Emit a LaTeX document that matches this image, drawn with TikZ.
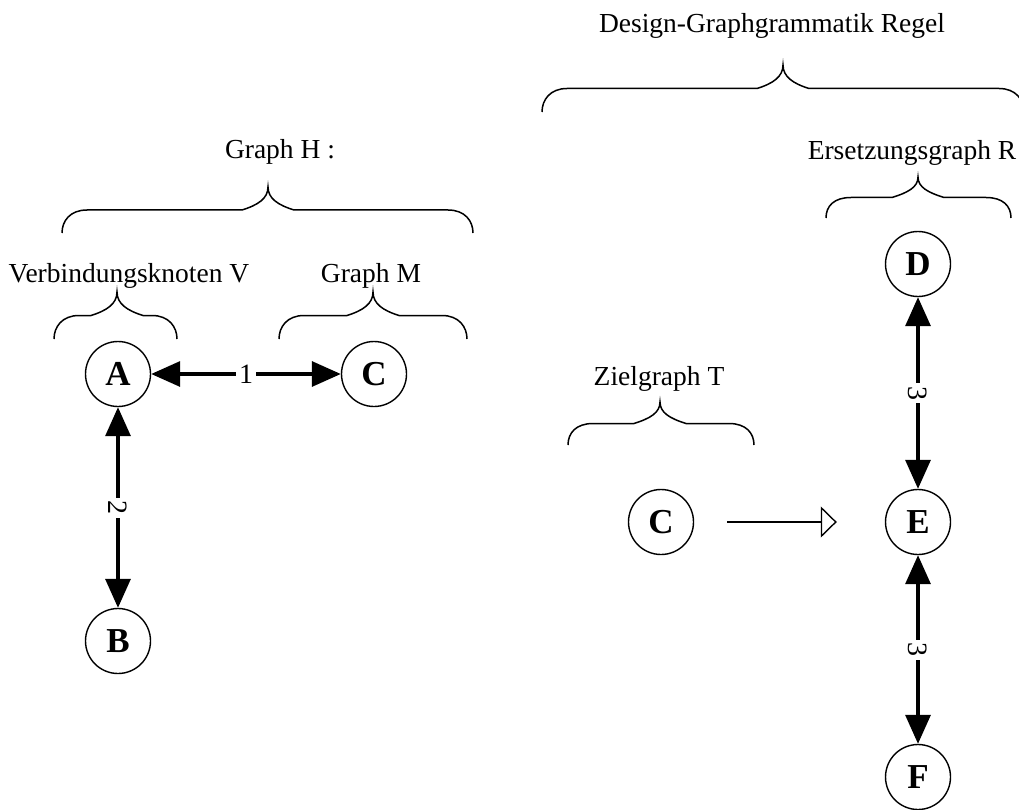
\documentclass[tikz,border=0pt]{standalone}
\usepackage{fontspec}
\setmainfont{Liberation Serif}
\usetikzlibrary{arrows.meta}
\newcommand\mybrace[5]{%
  \draw[bracepath] (#1,#4) .. controls (#1,{#4-12}) and ({#1+8},{#4-#5/2}) .. ({#1+25},{#4-#5/2})
    -- ({#3-26},{#4-#5/2}) .. controls ({#3-10},{#4-#5/2-5}) and (#3,{#4-#5*0.75}) .. (#3,{#4-#5})
    .. controls (#3,{#4-#5*0.75}) and ({#3+10},{#4-#5/2-5}) .. ({#3+26},{#4-#5/2})
    -- ({#2-25},{#4-#5/2}) .. controls ({#2-8},{#4-#5/2}) and (#2,{#4-12}) .. (#2,#4);}
\begin{document}
\begin{tikzpicture}[x=1pt,y=-1pt,
  vnode/.style={circle,draw,line width=1.4pt,minimum size=65pt,inner sep=0pt,
    font=\fontsize{35}{35}\selectfont\bfseries},
  lbl/.style={font=\fontsize{27.5}{30}\selectfont,anchor=base,inner sep=0pt},
  biarrow/.style={line width=3.3pt,{Triangle[length=29pt,width=25pt]}-{Triangle[length=29pt,width=25pt]}},
  elbl/.style={fill=white,font=\fontsize{28}{28}\selectfont,inner sep=3pt},
  openarrow/.style={line width=1.4pt,-{Triangle[open,length=16pt,width=31pt]}},
  bracepath/.style={line width=1.5pt}
]
\useasboundingbox (0,0) rectangle (1019,810);
\clip (0,0) rectangle (1019,810);

% nodes
\node[vnode] (A)  at (118,374) {A};
\node[vnode] (C1) at (374,374) {C};
\node[vnode] (B)  at (118,641) {B};
\node[vnode] (C2) at (661,522) {C};
\node[vnode] (E)  at (918,522) {E};
\node[vnode] (D)  at (918,264) {D};
\node[vnode] (F)  at (918,777) {F};

% connectors
\draw[biarrow] (A) -- node[elbl] (l1) {1} (C1);
\draw[biarrow] (A) -- node[elbl,rotate=-90] (l2) {2} (B);
\draw[biarrow] (D) -- node[elbl,rotate=-90] (l3) {3} (E);
\draw[biarrow] (E) -- node[elbl,rotate=-90] (l4) {3} (F);
\draw[openarrow,shorten <=33pt,shorten >=48pt] (C2) -- (E);

% braces
\mybrace{542}{1024}{783}{112}{47}
\mybrace{62}{473}{268}{233}{46}
\mybrace{826}{1011}{918}{218}{41}
\mybrace{54}{177}{117}{339}{47}
\mybrace{279}{467}{373}{339}{47}
\mybrace{568}{754}{660}{445}{43}

% labels
\node[lbl] (tDesign) at (772,33)  {Design-Graphgrammatik Regel};
\node[lbl] (tH)      at (280,159) {Graph H :};
\node[lbl] (tR)      at (912,160) {Ersetzungsgraph R};
\node[lbl] (tV)      at (129,282) {Verbindungsknoten V};
\node[lbl] (tM)      at (371,282) {Graph M};
\node[lbl] (tT)      at (659,385) {Zielgraph T};
\end{tikzpicture}
\end{document}
